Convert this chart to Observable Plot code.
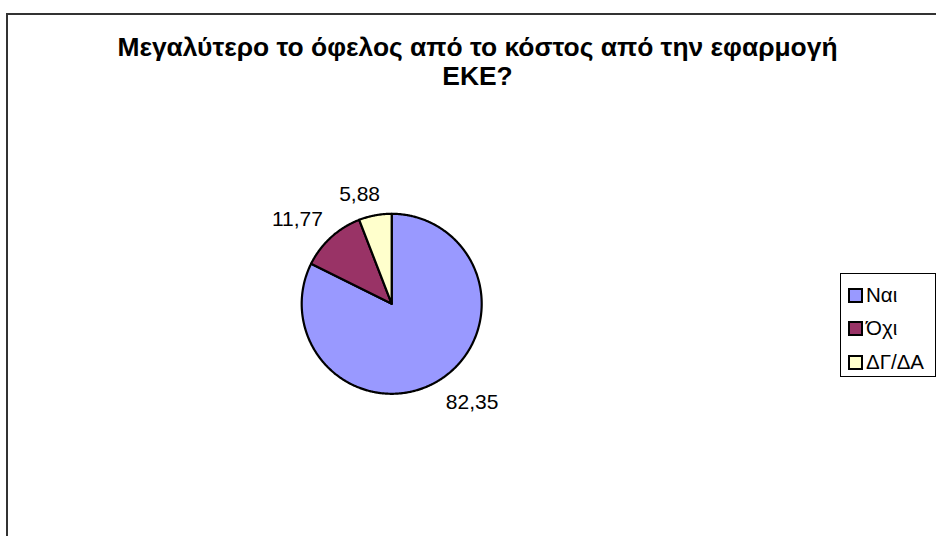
<!DOCTYPE html>
<html>
<head>
<meta charset="utf-8">
<script src="https://cdn.jsdelivr.net/npm/d3@7"></script>
<script src="https://cdn.jsdelivr.net/npm/@observablehq/plot@0.6"></script>
<style>
  html, body { margin: 0; padding: 0; background: #fff; }
  body { font-family: "Liberation Sans", Arial, sans-serif; }
  #wrap { position: relative; width: 936px; height: 536px; overflow: hidden; background: #fff; }
  #frame { position: absolute; left: 6px; top: 13px; width: 960px; height: 560px;
           border-left: 2px solid #333; border-top: 2px solid #333; }
  #title { position: absolute; left: 0; width: 955px; top: 33px; text-align: center;
           font-size: 26.4px; font-weight: bold; line-height: 29px; color: #000; }
  #chart { position: absolute; left: 0; top: 0; }
  #legend { position: absolute; left: 840px; top: 273px; width: 94px; height: 102px;
            border: 1px solid #000; background: #fff; }
  .item { position: absolute; left: 7px; height: 16px; display: flex; align-items: center;
          font-size: 20.5px; color: #000; white-space: nowrap; }
  .sw { width: 11px; height: 11px; border: 2px solid #000; margin-right: 3px; box-sizing: content-box; }
</style>
</head>
<body>
<div id="wrap">
  <div id="frame"></div>
  <div id="chart"></div>
  <div id="title"></div>
  <div id="legend"></div>
</div>
<script>
// ---- data ----
const titleLines = ["Μεγαλύτερο το όφελος από το κόστος από την εφαρμογή", "ΕΚΕ?"];
const categories = ["Ναι", "Όχι", "ΔΓ/ΔΑ"];
const values = [82.35, 11.77, 5.88];
const colors = ["#9999FF", "#993366", "#FFFFCC"];

// ---- layout (pixels) ----
const W = 936, H = 536;
const cx = 391.2, cy = 303.3, R = 90;
const labelOffsets = [[33, 22], [-33.6, -18.5], [-15.6, -21]]; // label centre offset from slice edge midpoint

// ---- geometry built from values ----
const total = d3.sum(values);
let acc = 0;
const slices = categories.map((c, i) => {
  const a0 = acc / total * 2 * Math.PI;
  acc += values[i];
  const a1 = acc / total * 2 * Math.PI;
  return {cat: c, value: values[i], a0, a1, i};
});

const wedgePts = [];
for (const s of slices) {
  wedgePts.push({cat: s.cat, x: 0, y: 0});
  const n = Math.max(2, Math.ceil((s.a1 - s.a0) / (Math.PI / 360)));
  for (let k = 0; k <= n; k++) {
    const a = s.a0 + (s.a1 - s.a0) * k / n;
    wedgePts.push({cat: s.cat, x: Math.sin(a), y: Math.cos(a)});
  }
}

const labels = slices.map(s => {
  const m = (s.a0 + s.a1) / 2;
  const [ox, oy] = labelOffsets[s.i];
  return {
    text: s.value.toFixed(2).replace(".", ","),
    x: Math.sin(m) + ox / R,
    y: Math.cos(m) - oy / R
  };
});

const plot = Plot.plot({
  width: W,
  height: H,
  margin: 0,
  x: {domain: [-1, 1], range: [cx - R, cx + R], axis: null},
  y: {domain: [-1, 1], range: [cy + R, cy - R], axis: null},
  color: {domain: categories, range: colors},
  style: {background: "transparent", fontFamily: "'Liberation Sans', Arial, sans-serif"},
  marks: [
    Plot.line(wedgePts, {
      x: "x", y: "y", z: "cat", fill: "cat",
      stroke: "#000", strokeWidth: 2.2, strokeLinejoin: "round",
      curve: "linear-closed"
    }),
    Plot.text(labels, {
      x: "x", y: "y", text: "text",
      fontSize: 21, fill: "#000", textAnchor: "middle", lineAnchor: "middle"
    })
  ]
});
document.getElementById("chart").appendChild(plot);

// ---- title ----
document.getElementById("title").innerHTML = titleLines.map(t => `<div>${t}</div>`).join("");

// ---- legend ----
const leg = document.getElementById("legend");
const itemTops = [13, 46, 80];
categories.forEach((c, i) => {
  const it = document.createElement("div");
  it.className = "item";
  it.style.top = itemTops[i] + "px";
  it.innerHTML = `<span class="sw" style="background:${colors[i]}"></span><span>${c}</span>`;
  leg.appendChild(it);
});
</script>
</body>
</html>
